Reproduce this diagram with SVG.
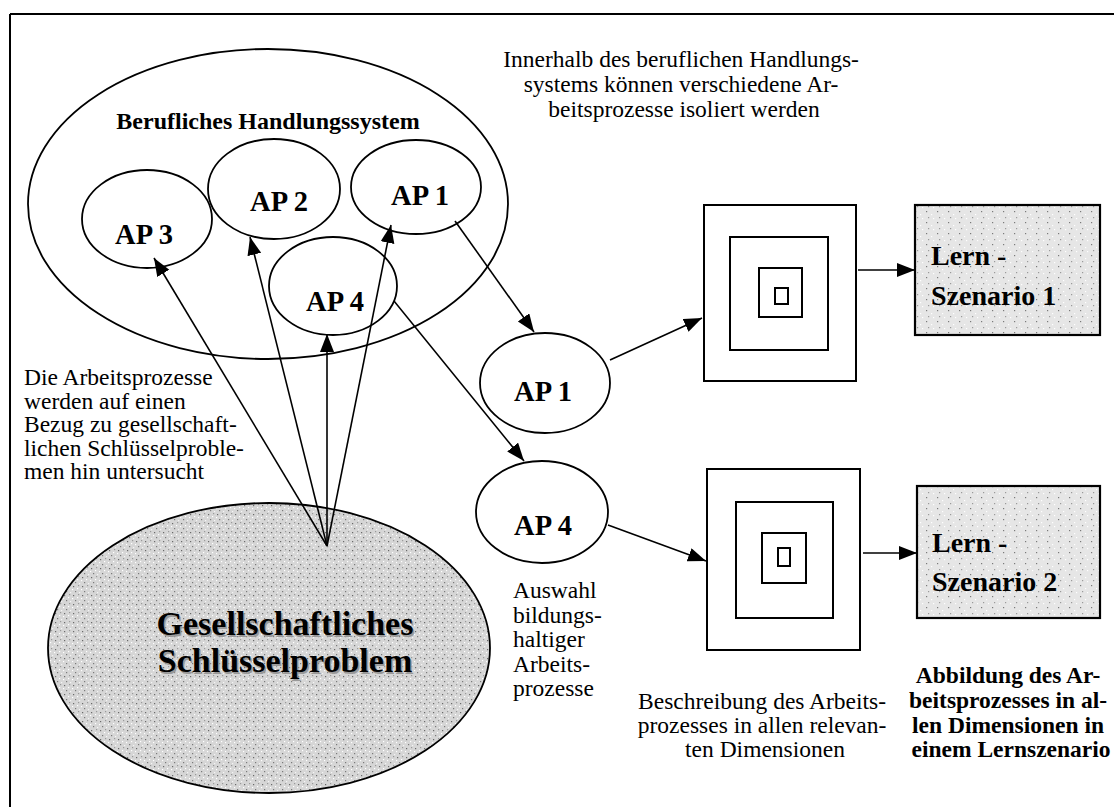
<svg xmlns="http://www.w3.org/2000/svg" width="1114" height="807" viewBox="0 0 1114 807">
<defs>
<style>
.t{font-family:"Liberation Serif","Times New Roman",serif;font-size:23.5px;fill:#000}
.b{font-weight:bold}
.ap{font-family:"Liberation Serif","Times New Roman",serif;font-size:28.5px;font-weight:bold;text-anchor:middle}
.el{fill:none;stroke:#000;stroke-width:1.8}
.bx{fill:#fff;stroke:#000;stroke-width:2}
.ln{stroke:#000;stroke-width:1.6;fill:none;marker-end:url(#ah)}
.big{font-family:"Liberation Serif","Times New Roman",serif;font-size:34px;font-weight:bold;text-anchor:middle}
.lern{font-family:"Liberation Serif","Times New Roman",serif;font-size:28px;font-weight:bold}
</style>
<marker id="ah" markerUnits="userSpaceOnUse" markerWidth="20" markerHeight="16" refX="18" refY="7" orient="auto">
<path d="M0,0 L18,7 L0,14 z" fill="#000"/>
</marker>
<pattern id="stip" width="9" height="9" patternUnits="userSpaceOnUse">
<rect width="9" height="9" fill="#d6d6d6"/>
<rect x="1" y="1" width="1.2" height="1.2" fill="#6a6a6a"/>
<rect x="5" y="3" width="1.2" height="1.2" fill="#ffffff"/>
<rect x="3" y="6" width="1.2" height="1.2" fill="#7a7a7a"/>
<rect x="7" y="7" width="1.2" height="1.2" fill="#f4f4f4"/>
<rect x="6" y="0" width="1.2" height="1.2" fill="#9a9a9a"/>
<rect x="0" y="4" width="1.2" height="1.2" fill="#ffffff"/>
</pattern>
<pattern id="stip2" width="11" height="11" patternUnits="userSpaceOnUse">
<rect width="11" height="11" fill="#e6e6e6"/>
<rect x="2" y="2" width="1.2" height="1.2" fill="#7a7a7a"/>
<rect x="7" y="5" width="1.2" height="1.2" fill="#ffffff"/>
<rect x="4" y="8" width="1.2" height="1.2" fill="#9a9a9a"/>
<rect x="9" y="9" width="1.2" height="1.2" fill="#ffffff"/>
</pattern>
</defs>

<rect width="1114" height="807" fill="#fff"/>

<g id="frame" stroke="#000" stroke-width="2" fill="none">
<line x1="10" y1="14" x2="1114" y2="14"/>
<line x1="10" y1="14" x2="10" y2="807"/>
</g>

<g id="handlungssystem">
<ellipse class="el" cx="268" cy="204" rx="240" ry="155"/>
<text class="t b" x="268" y="129" text-anchor="middle" style="font-size:24px">Berufliches Handlungssystem</text>
</g>

<g id="ap3">
<ellipse class="el" cx="147" cy="219" rx="65" ry="49"/>
<text class="ap" x="144" y="244">AP 3</text>
</g>
<g id="ap2">
<ellipse class="el" cx="274" cy="189" rx="66" ry="50"/>
<text class="ap" x="279" y="211">AP 2</text>
</g>
<g id="ap1">
<ellipse class="el" cx="416" cy="187" rx="65" ry="47"/>
<text class="ap" x="420" y="205">AP 1</text>
</g>
<g id="ap4">
<ellipse class="el" cx="333" cy="286" rx="64" ry="49"/>
<text class="ap" x="335" y="311">AP 4</text>
</g>

<g id="schluesselproblem">
<ellipse cx="269" cy="648" rx="221" ry="145" fill="url(#stip)" stroke="#000" stroke-width="1.8"/>
<text class="big" x="286.5" y="636.5" fill="#999">Gesellschaftliches</text>
<text class="big" x="286.5" y="673.5" fill="#999">Schlüsselproblem</text>
<text class="big" x="285" y="635">Gesellschaftliches</text>
<text class="big" x="285" y="672">Schlüsselproblem</text>
</g>

<g id="ap1-selected">
<ellipse class="el" cx="545" cy="383" rx="65" ry="50"/>
<text class="ap" x="543" y="401">AP 1</text>
</g>
<g id="ap4-selected">
<ellipse class="el" cx="542" cy="512" rx="66" ry="51"/>
<text class="ap" x="543" y="535">AP 4</text>
</g>

<g id="beschreibung1">
<rect class="bx" x="704" y="205" width="152" height="176"/>
<rect class="bx" x="730" y="237" width="98" height="113"/>
<rect class="bx" x="759" y="268" width="43" height="49"/>
<rect class="bx" x="775" y="288" width="13" height="16"/>
</g>
<g id="beschreibung2">
<rect class="bx" x="707" y="469" width="153" height="181"/>
<rect class="bx" x="736" y="502" width="97" height="116"/>
<rect class="bx" x="762" y="533" width="44" height="50"/>
<rect class="bx" x="778" y="548" width="12" height="18"/>
</g>

<g id="lernszenario1">
<rect x="915" y="205" width="185" height="130" fill="url(#stip2)" stroke="#000" stroke-width="2.2"/>
<text class="lern" x="931" y="265">Lern -</text>
<text class="lern" x="931" y="305">Szenario 1</text>
</g>
<g id="lernszenario2">
<rect x="917" y="486" width="183" height="132" fill="url(#stip2)" stroke="#000" stroke-width="2.2"/>
<text class="lern" x="932" y="552">Lern -</text>
<text class="lern" x="932" y="591">Szenario 2</text>
</g>

<g id="connectors">
<line class="ln" x1="327" y1="546" x2="154" y2="258"/>
<line class="ln" x1="327" y1="546" x2="250" y2="237"/>
<line class="ln" x1="327" y1="546" x2="327" y2="334"/>
<line class="ln" x1="327" y1="546" x2="391" y2="225"/>
<line class="ln" x1="455" y1="221" x2="534" y2="332"/>
<line class="ln" x1="394" y1="301" x2="524" y2="461"/>
<line class="ln" x1="610" y1="360" x2="702" y2="318"/>
<line class="ln" x1="608" y1="525" x2="706" y2="561"/>
<line class="ln" x1="858" y1="270" x2="915" y2="270"/>
<line class="ln" x1="863" y1="553" x2="917" y2="553"/>
</g>

<g id="labels">
<text class="t" text-anchor="middle">
<tspan x="684" y="67">Innerhalb des beruflichen Handlungs-</tspan>
<tspan x="684" y="92">systems können verschiedene Ar-</tspan>
<tspan x="684" y="117">beitsprozesse isoliert werden</tspan>
</text>
<text class="t">
<tspan x="24" y="385">Die Arbeitsprozesse</tspan>
<tspan x="24" y="408.5">werden auf einen</tspan>
<tspan x="24" y="432">Bezug zu gesellschaft-</tspan>
<tspan x="24" y="455.5">lichen Schlüsselproble-</tspan>
<tspan x="24" y="479">men hin untersucht</tspan>
</text>
<text class="t">
<tspan x="513" y="598">Auswahl</tspan>
<tspan x="513" y="622.5">bildungs-</tspan>
<tspan x="513" y="647">haltiger</tspan>
<tspan x="513" y="671.5">Arbeits-</tspan>
<tspan x="513" y="696">prozesse</tspan>
</text>
<text class="t" text-anchor="middle">
<tspan x="765" y="709">Beschreibung des Arbeits-</tspan>
<tspan x="765" y="733">prozesses in allen relevan-</tspan>
<tspan x="765" y="757">ten Dimensionen</tspan>
</text>
<text class="t b" text-anchor="middle">
<tspan x="1011" y="683">Abbildung des Ar-</tspan>
<tspan x="1011" y="708">beitsprozesses in al-</tspan>
<tspan x="1011" y="733">len Dimensionen in</tspan>
<tspan x="1011" y="757">einem Lernszenario</tspan>
</text>
</g>
</svg>
